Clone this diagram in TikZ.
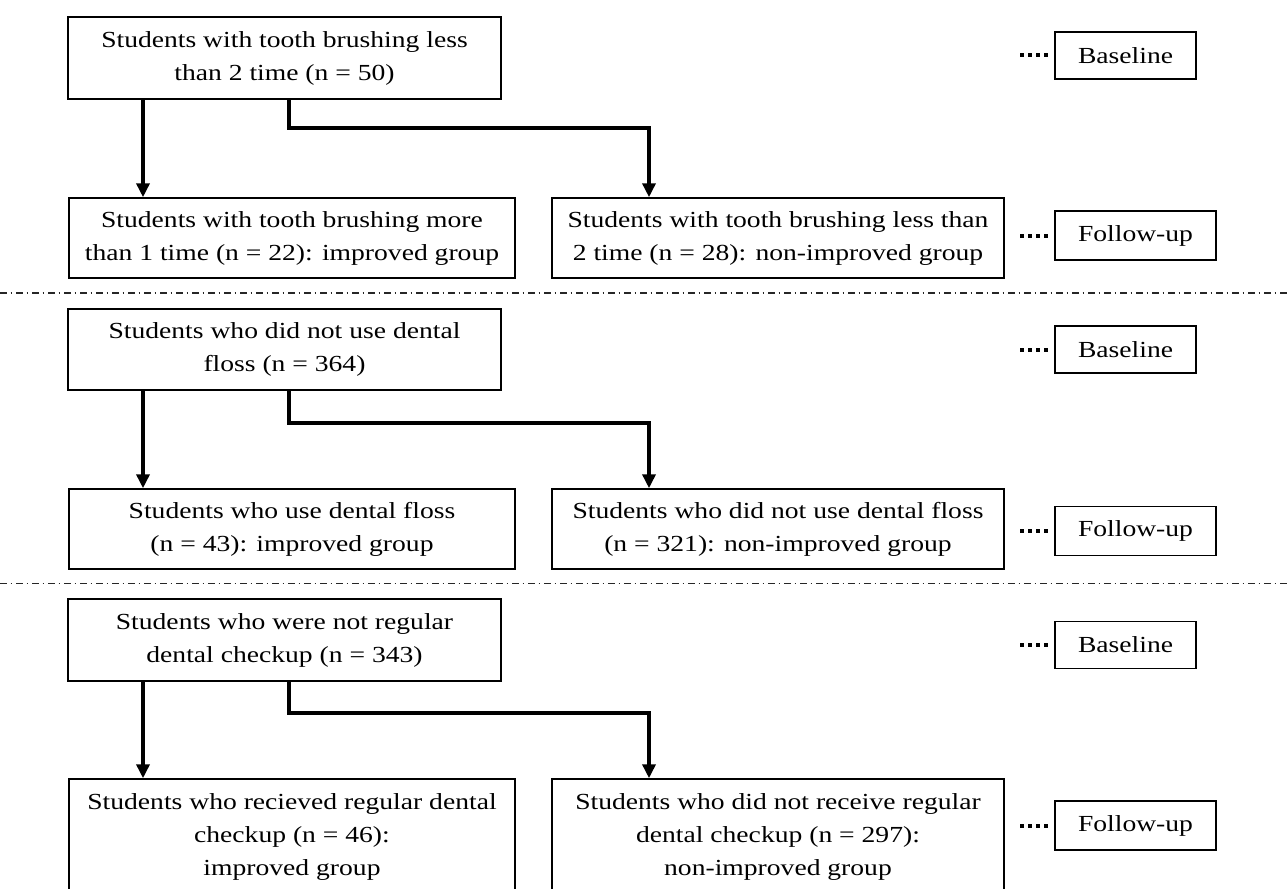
\documentclass[tikz,border=0pt]{standalone}
\usepackage{fontspec}
\setmainfont{Liberation Serif}[FakeStretch=1.2]
\usetikzlibrary{arrows.meta,calc}
\begin{document}
\begin{tikzpicture}[x=0.5pt,y=-0.5pt,
  box/.style={draw=black,line width=0.75pt,align=center,inner sep=0pt,
    font=\fontsize{11.5}{16.5}\selectfont},
  topbox/.style={box,minimum width=216.5pt,minimum height=41pt},
  lbox/.style={box,minimum width=223pt,minimum height=40pt},
  rbox/.style={box,minimum width=226pt,minimum height=40pt},
  basebox/.style={box,minimum width=70.5pt,minimum height=23.5pt},
  fubox/.style={box,minimum width=80.5pt,minimum height=24.5pt},
  arr/.style={line width=1.8pt,line join=miter,-{Triangle[width=6.5pt,length=7pt]}},
  dotline/.style={line width=2pt,dash pattern=on 2pt off 2pt,shorten >=2pt},
  sepline/.style={line width=0.75pt,black!85,dash pattern=on 3.5pt off 1.8pt on 0.9pt off 1.8pt}]
\useasboundingbox (0,0) rectangle (1288,888);
\clip (0,0) rectangle (1288,888);
\fill[white] (0,0) rectangle (1288,888);

% ---------- Section 1 ----------
\node[topbox] (t1) at (284.5,58) {Students with tooth brushing less\\than 2 time (n = 50)};
\node[lbox] (l1) at (292,238) {Students with tooth brushing more\\than 1 time (n = 22): improved group};
\node[rbox] (r1) at (778,238) {Students with tooth brushing less than\\2 time (n = 28): non-improved group};
\node[basebox] (b1) at (1125.5,55.5) {Baseline};
\node[fubox] (f1) at (1135.5,235.5) {Follow-up};
\coordinate (xa) at (143,0);
\coordinate (xb) at (289,0);
\coordinate (m1) at (649,128);
\draw[arr] (t1.south -| xa) -- (l1.north -| xa);
\draw[arr] (t1.south -| xb) |- (m1) -- (r1.north -| m1);
\coordinate (d1) at (1020,55.5);
\coordinate (e1) at (1020,235.5);
\draw[dotline] (d1) -- (b1.west);
\draw[dotline] (e1) -- (f1.west);
\coordinate (s1a) at (0,293);
\coordinate (s1b) at (1288,293);
\draw[sepline] (s1a) -- (s1b);

% ---------- Section 2 ----------
\node[topbox,minimum height=40.5pt] (t2) at (284.5,349.5) {Students who did not use dental\\floss (n = 364)};
\node[lbox] (l2) at (292,529) {Students who use dental floss\\(n = 43): improved group};
\node[rbox] (r2) at (778,529) {Students who did not use dental floss\\(n = 321): non-improved group};
\node[basebox] (b2) at (1125.5,349.5) {Baseline};
\node[fubox] (f2) at (1135.5,531) {Follow-up};
\coordinate (m2) at (649,423);
\draw[arr] (t2.south -| xa) -- (l2.north -| xa);
\draw[arr] (t2.south -| xb) |- (m2) -- (r2.north -| m2);
\coordinate (d2) at (1020,349.5);
\coordinate (e2) at (1020,531);
\draw[dotline] (d2) -- (b2.west);
\draw[dotline] (e2) -- (f2.west);
\coordinate (s2a) at (0,583.5);
\coordinate (s2b) at (1288,583.5);
\draw[sepline] (s2a) -- (s2b);

% ---------- Section 3 ----------
\node[topbox] (t3) at (284.5,640) {Students who were not regular\\dental checkup (n = 343)};
\node[lbox,minimum height=58pt] (l3) at (292,837) {Students who recieved regular dental\\checkup (n = 46):\\improved group};
\node[rbox,minimum height=58pt] (r3) at (778,837) {Students who did not receive regular\\dental checkup (n = 297):\\non-improved group};
\node[basebox] (b3) at (1125.5,645) {Baseline};
\node[fubox] (f3) at (1135.5,825.5) {Follow-up};
\coordinate (m3) at (649,713);
\draw[arr] (t3.south -| xa) -- (l3.north -| xa);
\draw[arr] (t3.south -| xb) |- (m3) -- (r3.north -| m3);
\coordinate (d3) at (1020,645);
\coordinate (e3) at (1020,825.5);
\draw[dotline] (d3) -- (b3.west);
\draw[dotline] (e3) -- (f3.west);
\end{tikzpicture}
\end{document}
